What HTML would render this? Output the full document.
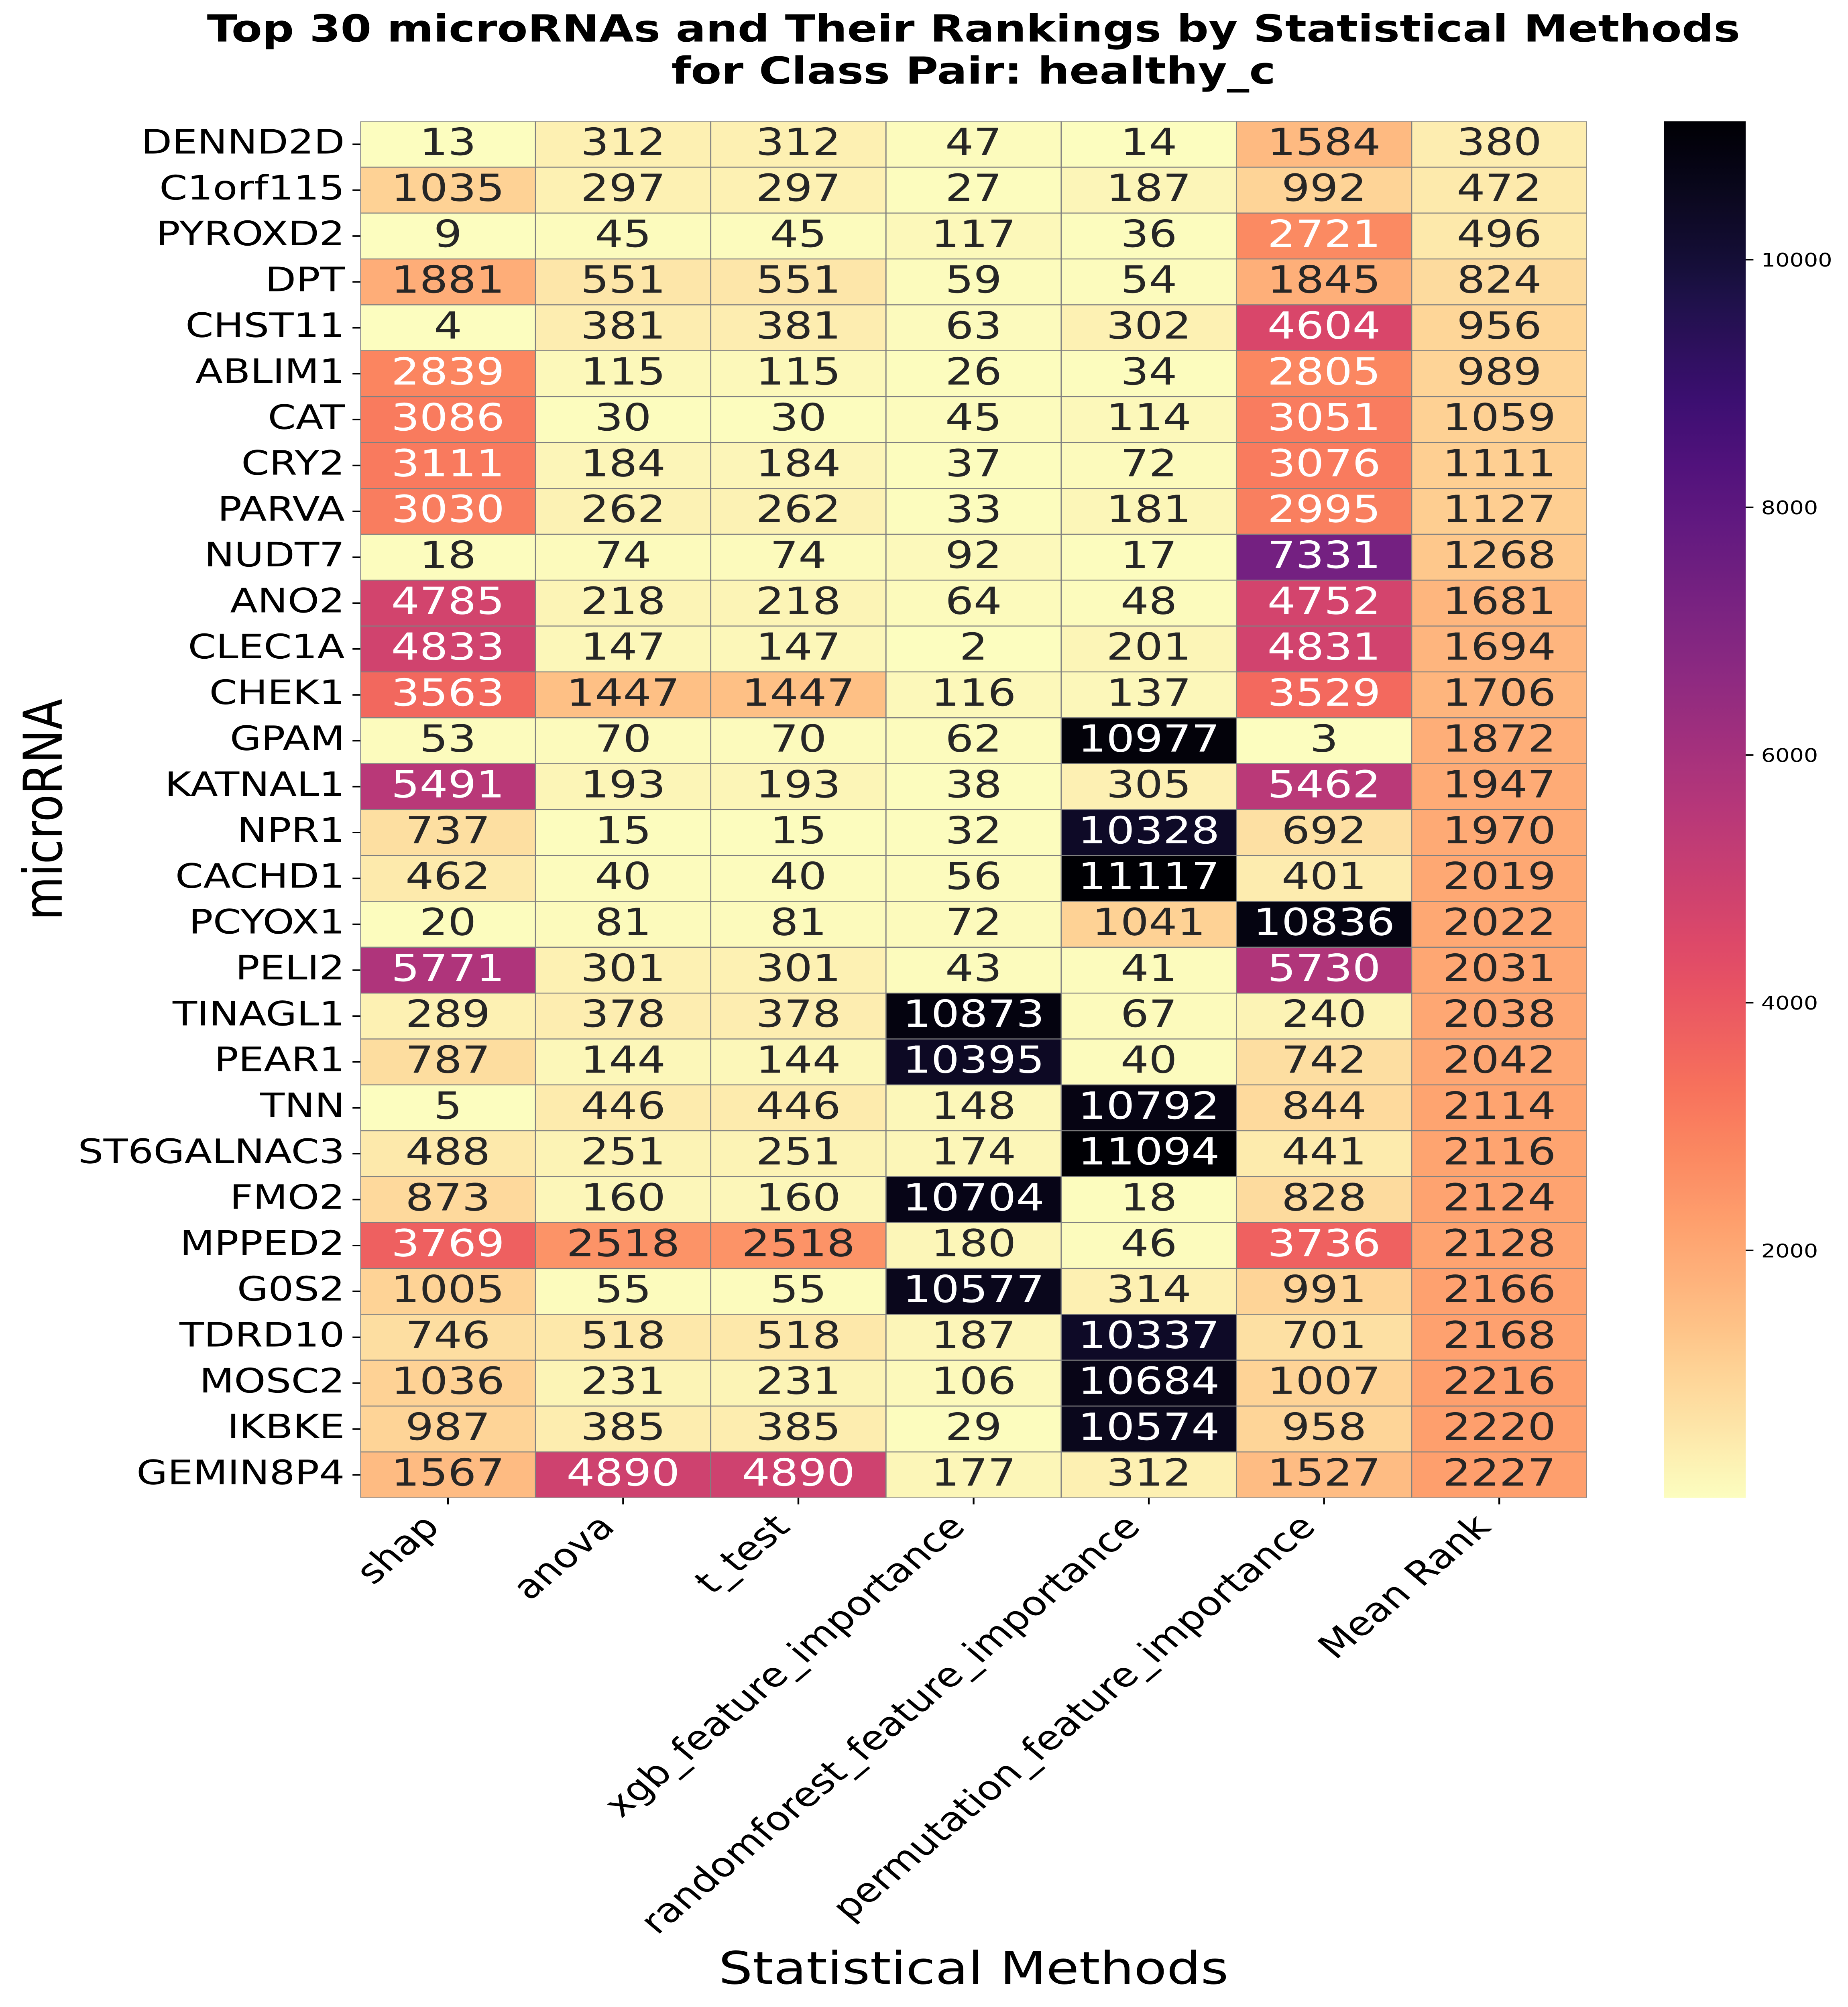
<!DOCTYPE html>
<html lang="en">
<head>
<meta charset="utf-8">
<title>Top 30 microRNAs and Their Rankings by Statistical Methods</title>
<style>
html,body{margin:0;padding:0;background:#fff;width:100%;height:100%;overflow:hidden;}
svg{display:block;width:100vw;height:100vh;}
text{font-family:"DejaVu Sans","Liberation Sans",sans-serif;text-rendering:geometricPrecision;}
</style>
</head>
<body>
<svg id="chart" xmlns="http://www.w3.org/2000/svg" viewBox="0 0 4604 5956" preserveAspectRatio="none">
<rect x="0" y="0" width="4604" height="5956" fill="#ffffff"/>
<text x="2425.5" y="123.5" font-size="111" font-weight="700" text-anchor="middle" fill="#000">Top 30 microRNAs and Their Rankings by Statistical Methods</text>
<text x="2425.5" y="248.5" font-size="111" font-weight="700" text-anchor="middle" fill="#000">for Class Pair: healthy_c</text>
<text x="2425.5" y="5887" font-size="133.3" text-anchor="middle" fill="#000">Statistical Methods</text>
<text x="153.8" y="2402.5" font-size="133.3" text-anchor="middle" fill="#000" transform="rotate(-90 153.8 2402.5)">microRNA</text>
<defs>
<clipPath id="plot-clip"><rect x="897.6" y="360" width="3055.9" height="4085"/></clipPath>
<linearGradient id="colorbar-gradient" x1="0" y1="1" x2="0" y2="0"></linearGradient>
</defs>
<g id="cells" clip-path="url(#plot-clip)"></g>
<g id="annotations"></g>
<g id="y-axis"></g>
<g id="x-axis"></g>
<g id="colorbar"></g>
</svg>
<script>
const microRNAs = ["DENND2D","C1orf115","PYROXD2","DPT","CHST11","ABLIM1","CAT","CRY2","PARVA","NUDT7","ANO2","CLEC1A","CHEK1","GPAM","KATNAL1","NPR1","CACHD1","PCYOX1","PELI2","TINAGL1","PEAR1","TNN","ST6GALNAC3","FMO2","MPPED2","G0S2","TDRD10","MOSC2","IKBKE","GEMIN8P4"];
const methodNames = ["shap","anova","t_test","xgb_feature_importance","randomforest_feature_importance","permutation_feature_importance","Mean Rank"];
const shapRanks = [13,1035,9,1881,4,2839,3086,3111,3030,18,4785,4833,3563,53,5491,737,462,20,5771,289,787,5,488,873,3769,1005,746,1036,987,1567];
const anovaRanks = [312,297,45,551,381,115,30,184,262,74,218,147,1447,70,193,15,40,81,301,378,144,446,251,160,2518,55,518,231,385,4890];
const tTestRanks = [312,297,45,551,381,115,30,184,262,74,218,147,1447,70,193,15,40,81,301,378,144,446,251,160,2518,55,518,231,385,4890];
const xgbRanks = [47,27,117,59,63,26,45,37,33,92,64,2,116,62,38,32,56,72,43,10873,10395,148,174,10704,180,10577,187,106,29,177];
const randomForestRanks = [14,187,36,54,302,34,114,72,181,17,48,201,137,10977,305,10328,11117,1041,41,67,40,10792,11094,18,46,314,10337,10684,10574,312];
const permutationRanks = [1584,992,2721,1845,4604,2805,3051,3076,2995,7331,4752,4831,3529,3,5462,692,401,10836,5730,240,742,844,441,828,3736,991,701,1007,958,1527];
const meanRanks = [380,472,496,824,956,989,1059,1111,1127,1268,1681,1694,1706,1872,1947,1970,2019,2022,2031,2038,2042,2114,2116,2124,2128,2166,2168,2216,2220,2227];
const colorbarTicks = [2000,4000,6000,8000,10000];

const seriesByMethod = [shapRanks,anovaRanks,tTestRanks,xgbRanks,randomForestRanks,permutationRanks,meanRanks];

const NS = "http://www.w3.org/2000/svg";
const plotLeft = 897.6, plotRight = 3953.5, plotTop = 360, plotBottom = 4445;
const barLeft = 4145, barRight = 4349;
const tickLen = 19.4, tickPad = 19.4, tickWidth = 4.4;

const allValues = seriesByMethod.flat();
const vMin = Math.min.apply(null, allValues);
const vMax = Math.max.apply(null, allValues);

function xCell(i){ return plotLeft + i * (plotRight - plotLeft) / methodNames.length; }
function yCell(i){ return plotTop + i * (plotBottom - plotTop) / microRNAs.length; }
function yBar(v){ return plotBottom - (v - vMin) / (vMax - vMin) * (plotBottom - plotTop); }

const magmaStops = [[0,"#000004"],[0.1,"#140e36"],[0.125,"#1d1147"],[0.2,"#3b0f70"],[0.25,"#51127c"],[0.3,"#641a80"],[0.375,"#822681"],[0.4,"#8c2981"],[0.5,"#b73779"],[0.6,"#de4968"],[0.625,"#e65164"],[0.7,"#f7705c"],[0.75,"#fb8861"],[0.8,"#fe9f6d"],[0.875,"#fec287"],[0.9,"#fecf92"],[1,"#fcfdbf"]];
function hexToRgb(h){ return [parseInt(h.slice(1,3),16),parseInt(h.slice(3,5),16),parseInt(h.slice(5,7),16)]; }
function magmaRgb(t){
  t = Math.max(0, Math.min(1, t));
  for (let i = 1; i < magmaStops.length; i++) {
    if (t <= magmaStops[i][0]) {
      const a = magmaStops[i-1], b = magmaStops[i];
      const f = (t - a[0]) / (b[0] - a[0]);
      const ca = hexToRgb(a[1]), cb = hexToRgb(b[1]);
      return [0,1,2].map(k => Math.round(ca[k] + (cb[k] - ca[k]) * f));
    }
  }
  return hexToRgb("#fcfdbf");
}
function colorFor(v){ return magmaRgb(1 - (v - vMin) / (vMax - vMin)); }
function cssColor(c){ return "rgb(" + c[0] + "," + c[1] + "," + c[2] + ")"; }
function luminance(c){
  const l = c.map(x => { x = x / 255; return x <= 0.03928 ? x / 12.92 : Math.pow((x + 0.055) / 1.055, 2.4); });
  return 0.2126 * l[0] + 0.7152 * l[1] + 0.0722 * l[2];
}
function make(tag, parent, props){
  const el = document.createElementNS(NS, tag);
  for (const k in props) el.setAttribute(k, props[k]);
  parent.appendChild(el);
  return el;
}

const cellsGroup = document.getElementById("cells");
const annotationsGroup = document.getElementById("annotations");
const yAxisGroup = document.getElementById("y-axis");
const xAxisGroup = document.getElementById("x-axis");
const colorbarGroup = document.getElementById("colorbar");
const gradient = document.getElementById("colorbar-gradient");

microRNAs.forEach(function(gene, r){
  const top = yCell(r), h = yCell(r + 1) - top, cy = top + h / 2;
  methodNames.forEach(function(method, c){
    const left = xCell(c), w = xCell(c + 1) - left, v = seriesByMethod[c][r];
    const col = colorFor(v);
    const cell = make("rect", cellsGroup, {x:left, y:top, width:w, height:h, fill:cssColor(col), stroke:"#808080", "stroke-width":2.8});
    
    
    const label = make("text", annotationsGroup, {x:left + w / 2, y:cy + 32, "font-size":111, "text-anchor":"middle", fill: luminance(col) > 0.408 ? "#262626" : "#ffffff"});
    
    
    label.textContent = String(v);
  });
  const tick = make("line", yAxisGroup, {x1:plotLeft - tickLen, x2:plotLeft, y1:cy, y2:cy, stroke:"#000", "stroke-width":tickWidth});
  
  
  const yLabel = make("text", yAxisGroup, {x:plotLeft - tickLen - tickPad, y:cy + 27.5, "font-size":100, "text-anchor":"end", fill:"#000"});
  
  
  yLabel.textContent = gene;
});

methodNames.forEach(function(method, c){
  const cx = (xCell(c) + xCell(c + 1)) / 2;
  const tick = make("line", xAxisGroup, {x1:cx, x2:cx, y1:plotBottom, y2:plotBottom + tickLen, stroke:"#000", "stroke-width":tickWidth});
  
  
  const ax = cx - 16.7, ay = plotBottom + tickLen + tickPad + 52.6;
  const xLabel = make("text", xAxisGroup, {x:ax, y:ay, "font-size":100, "text-anchor":"end", fill:"#000", transform:"rotate(-45 " + ax + " " + ay + ")"});
  
  
  xLabel.textContent = method;
});

for (let i = 0; i <= 64; i++) {
  const t = i / 64;
  make("stop", gradient, {offset:t, "stop-color":cssColor(magmaRgb(1 - t))});
}
const bar = make("rect", colorbarGroup, {x:barLeft, y:plotTop, width:barRight - barLeft, height:plotBottom - plotTop, fill:"url(#colorbar-gradient)"});


colorbarTicks.forEach(function(v){
  const y = yBar(v);
  const tick = make("line", colorbarGroup, {x1:barRight, x2:barRight + tickLen, y1:y, y2:y, stroke:"#000", "stroke-width":tickWidth});
  
  
  const label = make("text", colorbarGroup, {x:barRight + tickLen + tickPad, y:y + 20.5, "font-size":55.6, fill:"#000"});
  
  
  label.textContent = String(v);
});
</script>
</body>
</html>
